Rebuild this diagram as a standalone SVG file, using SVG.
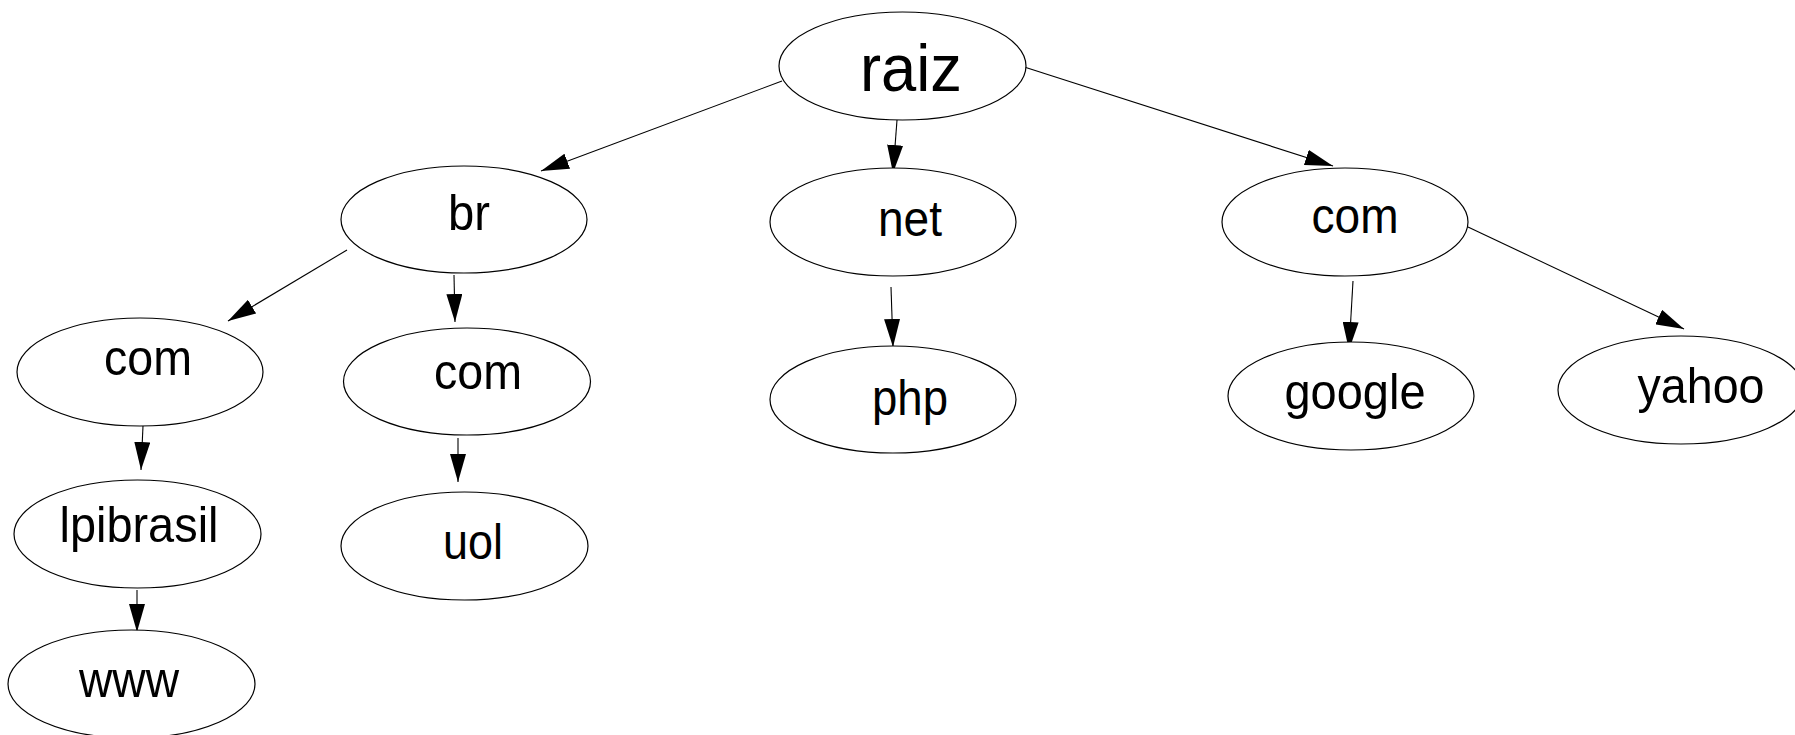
<svg xmlns="http://www.w3.org/2000/svg" width="1795" height="735" viewBox="0 0 1795 735">
<style>
.n ellipse{fill:#fff;stroke:#000;stroke-width:1.2}
.n text{font-family:"Liberation Sans",Arial,sans-serif;font-size:50px;fill:#000;text-anchor:middle}
.e line{stroke:#000;stroke-width:1.1;marker-end:url(#ah)}
</style>
<defs>
<marker id="ah" markerUnits="userSpaceOnUse" markerWidth="28" markerHeight="16" refX="28" refY="8" orient="auto">
<path d="M0,0 L28,8 L0,16 z" fill="#000"/>
</marker>
</defs>
<rect width="1795" height="735" fill="#fff"/>
<g id="connectors" class="e">
<line x1="782" y1="81" x2="541" y2="171"/>
<line x1="897" y1="120" x2="893" y2="173"/>
<line x1="1018" y1="65" x2="1333" y2="166"/>
<line x1="347" y1="250" x2="228" y2="321"/>
<line x1="454" y1="275" x2="455" y2="322"/>
<line x1="891" y1="287" x2="893" y2="347"/>
<line x1="1353" y1="281" x2="1349" y2="350"/>
<line x1="1468" y1="227" x2="1684" y2="329"/>
<line x1="143" y1="426" x2="141" y2="470"/>
<line x1="458" y1="438" x2="458" y2="482"/>
<line x1="137" y1="590" x2="137" y2="632"/>
</g>
<g id="raiz" class="n"><ellipse cx="902.5" cy="66" rx="123.5" ry="54"/><text x="911" y="91" style="font-size:66px" textLength="102" lengthAdjust="spacingAndGlyphs">raiz</text></g>
<g id="br" class="n"><ellipse cx="464" cy="219.5" rx="123" ry="53.5"/><text x="469" y="230" textLength="42" lengthAdjust="spacingAndGlyphs">br</text></g>
<g id="net" class="n"><ellipse cx="893" cy="222" rx="123" ry="54"/><text x="910" y="236" textLength="64" lengthAdjust="spacingAndGlyphs">net</text></g>
<g id="com-right" class="n"><ellipse cx="1345" cy="222" rx="123" ry="54"/><text x="1355" y="233" textLength="87" lengthAdjust="spacingAndGlyphs">com</text></g>
<g id="com-left" class="n"><ellipse cx="140" cy="372" rx="123" ry="54"/><text x="148" y="375" textLength="88" lengthAdjust="spacingAndGlyphs">com</text></g>
<g id="com-mid" class="n"><ellipse cx="467" cy="381.5" rx="123.5" ry="53.5"/><text x="478" y="389" textLength="88" lengthAdjust="spacingAndGlyphs">com</text></g>
<g id="php" class="n"><ellipse cx="893" cy="399.5" rx="123" ry="53.5"/><text x="910" y="415" textLength="76" lengthAdjust="spacingAndGlyphs">php</text></g>
<g id="google" class="n"><ellipse cx="1351" cy="396" rx="123" ry="54"/><text x="1355" y="409" textLength="141" lengthAdjust="spacingAndGlyphs">google</text></g>
<g id="yahoo" class="n"><ellipse cx="1681" cy="390" rx="123" ry="54"/><text x="1701" y="403" textLength="127" lengthAdjust="spacingAndGlyphs">yahoo</text></g>
<g id="lpibrasil" class="n"><ellipse cx="137.5" cy="534" rx="123.5" ry="54"/><text x="139" y="542" textLength="159" lengthAdjust="spacingAndGlyphs">lpibrasil</text></g>
<g id="uol" class="n"><ellipse cx="464.5" cy="546" rx="123.5" ry="54"/><text x="473" y="559" textLength="60" lengthAdjust="spacingAndGlyphs">uol</text></g>
<g id="www" class="n"><ellipse cx="131.5" cy="684" rx="123.5" ry="54"/><text x="129" y="697" textLength="100" lengthAdjust="spacingAndGlyphs">www</text></g>
</svg>
